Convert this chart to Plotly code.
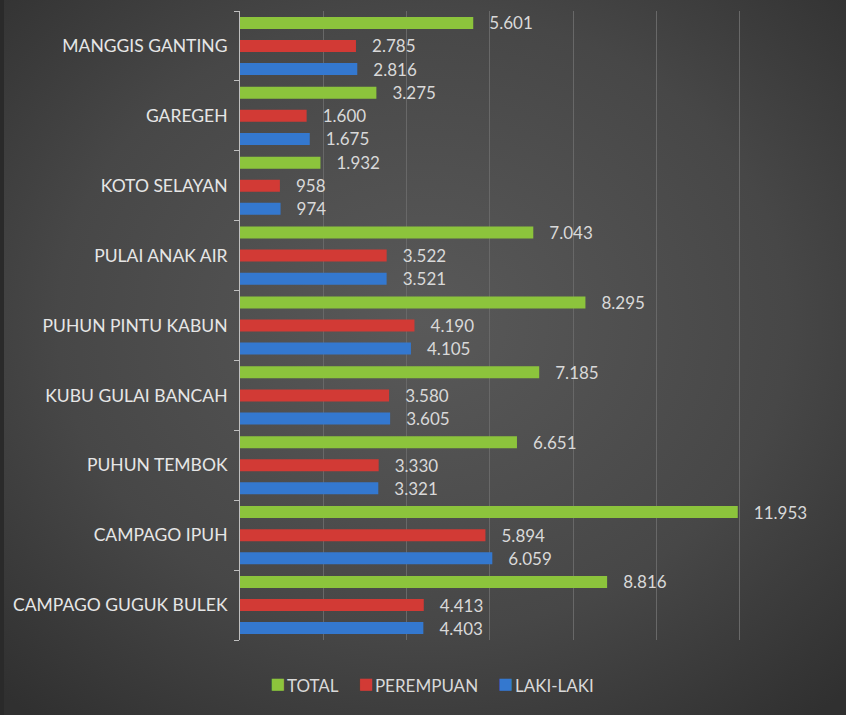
import plotly.graph_objects as go
from urllib.parse import quote

# categories from bottom to top (plotly draws the first category at the bottom)
DESA = ['CAMPAGO GUGUK BULEK', 'CAMPAGO IPUH', 'PUHUN TEMBOK', 'KUBU GULAI BANCAH',
        'PUHUN PINTU KABUN', 'PULAI ANAK AIR', 'KOTO SELAYAN', 'GAREGEH', 'MANGGIS GANTING']
LAKI_LAKI = [4403, 6059, 3321, 3605, 4105, 3521, 974, 1675, 2816]
PEREMPUAN = [4413, 5894, 3330, 3580, 4190, 3522, 958, 1600, 2785]
TOTAL = [8816, 11953, 6651, 7185, 8295, 7043, 1932, 3275, 5601]

COLORS = {'TOTAL': '#8cc43c', 'PEREMPUAN': '#d23a35', 'LAKI-LAKI': '#3478cf'}
FONT = 'Lato, "Open Sans", sans-serif'

W, H = 846, 715
L, R, T, B = 240, 23, 11, 75
PW, PH = W - L - R, H - T - B


def px(x):
    return (x - L) / PW


def py(y):
    return (H - B - y) / PH


# dark radial background like the office chart style
bg_svg = ('<svg xmlns="http://www.w3.org/2000/svg" width="846" height="715" preserveAspectRatio="none">'
          '<defs><radialGradient id="g" cx="50%" cy="45%" r="72%">'
          '<stop offset="0" stop-color="#595959"/>'
          '<stop offset="0.6" stop-color="#474747"/>'
          '<stop offset="1" stop-color="#303030"/>'
          '</radialGradient></defs>'
          '<rect width="846" height="715" fill="url(#g)"/>'
          '<rect width="4" height="715" fill="#2a2a2a"/></svg>')
bg_uri = 'data:image/svg+xml;charset=utf-8,' + quote(bg_svg)

fig = go.Figure()
for name, vals in [('LAKI-LAKI', LAKI_LAKI), ('PEREMPUAN', PEREMPUAN), ('TOTAL', TOTAL)]:
    fig.add_trace(go.Bar(
        y=DESA, x=vals, name=name, orientation='h',
        marker=dict(color=COLORS[name], line=dict(width=0)),
        texttemplate='   %{x:,}', textposition='outside', constraintext='none',
        textfont=dict(color='#d9d9d9', size=17, family=FONT),
        cliponaxis=False, showlegend=False,
    ))

# legend drawn as text so the small squares sit close to the labels
legend_items = [('TOTAL', 270), ('PEREMPUAN', 358), ('LAKI-LAKI', 498)]
annotations = []
for name, x0 in legend_items:
    annotations.append(dict(
        text=(f"<span style='color:{COLORS[name]};font-size:25px'>■</span>"
              f"<span style='font-size:7px'> </span>{name}"),
        x=px(x0 - 2), y=py(682), xref='paper', yref='paper', xanchor='left', yanchor='middle',
        showarrow=False, font=dict(size=17, color='#d9d9d9', family=FONT),
    ))

fig.update_layout(
    width=W, height=H,
    margin=dict(l=L, r=R, t=T, b=B),
    paper_bgcolor='#3c3c3c', plot_bgcolor='rgba(0,0,0,0)',
    separators=',.',
    barmode='group', bargap=0.01, bargroupgap=0.48,
    font=dict(family=FONT, color='#d9d9d9', size=17.5),
    images=[dict(source=bg_uri, xref='paper', yref='paper', x=px(0), y=py(0),
                 sizex=W / PW, sizey=H / PH, xanchor='left', yanchor='top',
                 sizing='stretch', layer='below')],
    annotations=annotations,
    showlegend=False,
)
fig.update_xaxes(range=[0, 14000], dtick=2000, showticklabels=False, showgrid=True,
                 gridcolor='#686868', gridwidth=1, zeroline=False, showline=False)
fig.update_yaxes(showline=True, linecolor='#bfbfbf', linewidth=1, ticks='outside',
                 tickson='boundaries', ticklen=5, tickcolor='#bfbfbf', showgrid=False,
                 ticklabelstandoff=8, tickfont=dict(size=17.5, color='#e6e6e6'))

fig.write_html('out.html', config={'displayModeBar': False},
               post_script="document.body.style.margin='0';"
                           "document.body.style.background='#303030';")
